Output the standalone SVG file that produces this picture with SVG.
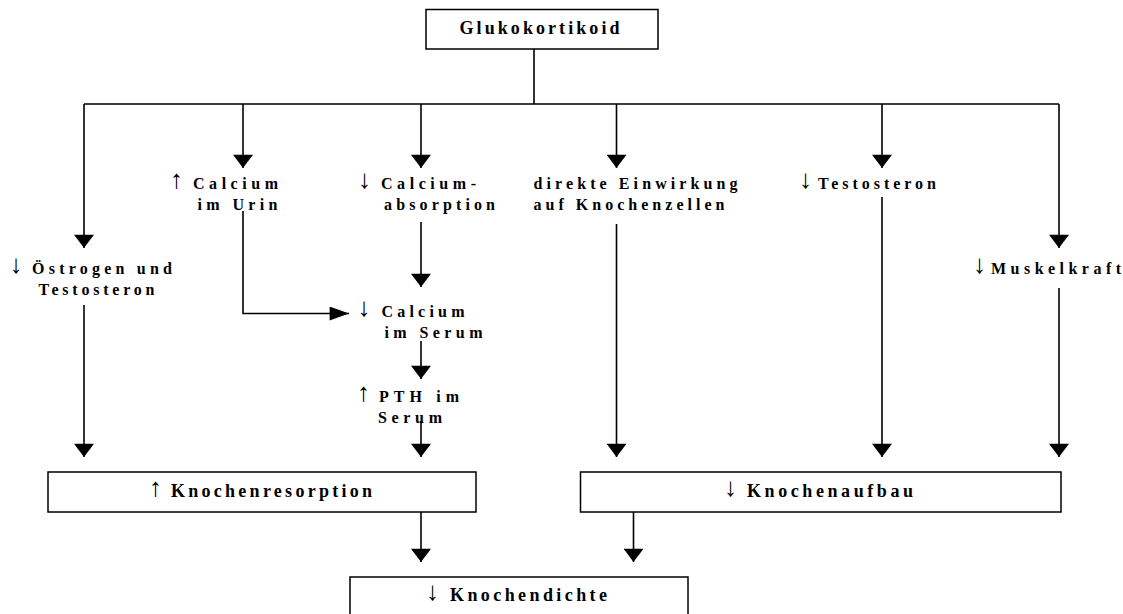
<svg xmlns="http://www.w3.org/2000/svg" width="1123" height="614" viewBox="0 0 1123 614">
<style>
.box{fill:#fff;stroke:#000;stroke-width:1.5}
.t{font-family:"Liberation Serif","Times New Roman",serif;font-weight:bold;font-size:16px;fill:#000}
.tb{font-family:"Liberation Serif","Times New Roman",serif;font-weight:bold;font-size:18px;fill:#000}
.ar{font-family:"Liberation Serif","DejaVu Serif",serif;font-weight:normal;font-size:26px;fill:#000}
.ln{fill:none;stroke:#000;stroke-width:1.6}
.dn{marker-end:url(#head)}
.rt{marker-end:url(#headR)}
</style>
<defs>
<marker id="head" markerUnits="userSpaceOnUse" markerWidth="14" markerHeight="20" refX="12" refY="9" orient="auto" viewBox="0 0 12 18">
<path d="M0,0 L12,9 L0,18 z" fill="#000"/>
</marker>
<marker id="headR" markerUnits="userSpaceOnUse" markerWidth="20" markerHeight="14" refX="18" refY="6.5" orient="auto" viewBox="0 0 18 13">
<path d="M0,0 L18,6.5 L0,13 z" fill="#000"/>
</marker>
</defs>
<rect width="1123" height="614" fill="#fff"/>

<g id="connectors">
<path class="ln" d="M534,49 V104 M84,104 H1059"/>
<path class="ln dn" d="M84,104 V248"/>
<path class="ln dn" d="M243,104 V168"/>
<path class="ln dn" d="M421,104 V168"/>
<path class="ln dn" d="M616.5,104 V168"/>
<path class="ln dn" d="M882,104 V168"/>
<path class="ln dn" d="M1059,104 V248"/>
<path class="ln rt" d="M243,211 V313.5 H349"/>
<path class="ln dn" d="M421,222 V287"/>
<path class="ln dn" d="M421,341 V379"/>
<path class="ln dn" d="M421,421 V457"/>
<path class="ln dn" d="M84,305 V457"/>
<path class="ln dn" d="M616.5,224 V457"/>
<path class="ln dn" d="M882,197 V457"/>
<path class="ln dn" d="M1059,288 V457"/>
<path class="ln dn" d="M421,512 V562"/>
<path class="ln dn" d="M633.5,512 V562"/>
</g>

<g id="glukokortikoid">
<rect class="box" x="426" y="9.5" width="232" height="39.5"/>
<text class="tb" x="459.5" y="34" textLength="160" lengthAdjust="spacing">Glukokortikoid</text>
</g>

<g id="calcium-urin">
<text class="ar" x="170" y="188">↑</text>
<text class="t" x="193" y="189" textLength="85" lengthAdjust="spacing">Calcium</text>
<text class="t" x="197.5" y="210" textLength="80" lengthAdjust="spacing">im Urin</text>
</g>

<g id="calcium-absorption">
<text class="ar" x="358" y="188">↓</text>
<text class="t" x="381" y="189" textLength="95" lengthAdjust="spacing">Calcium-</text>
<text class="t" x="384" y="210" textLength="111" lengthAdjust="spacing">absorption</text>
</g>

<g id="direkte-einwirkung">
<text class="t" x="533.5" y="189" textLength="204" lengthAdjust="spacing">direkte Einwirkung</text>
<text class="t" x="533.5" y="210" textLength="191" lengthAdjust="spacing">auf Knochenzellen</text>
</g>

<g id="testosteron">
<text class="ar" x="799" y="188">↓</text>
<text class="t" x="818" y="189" textLength="118" lengthAdjust="spacing">Testosteron</text>
</g>

<g id="oestrogen">
<text class="ar" x="9.5" y="273">↓</text>
<text class="t" x="32" y="274" textLength="140" lengthAdjust="spacing">Östrogen und</text>
<text class="t" x="38.5" y="295" textLength="116" lengthAdjust="spacing">Testosteron</text>
</g>

<g id="muskelkraft">
<text class="ar" x="973" y="273">↓</text>
<text class="t" x="991" y="274" textLength="130" lengthAdjust="spacing">Muskelkraft</text>
</g>

<g id="calcium-serum">
<text class="ar" x="357.5" y="316">↓</text>
<text class="t" x="381.5" y="317" textLength="83" lengthAdjust="spacing">Calcium</text>
<text class="t" x="384.5" y="338" textLength="98" lengthAdjust="spacing">im Serum</text>
</g>

<g id="pth-serum">
<text class="ar" x="357" y="401">↑</text>
<text class="t" x="379" y="402" textLength="80" lengthAdjust="spacing">PTH im</text>
<text class="t" x="378" y="423" textLength="64" lengthAdjust="spacing">Serum</text>
</g>

<g id="knochenresorption">
<rect class="box" x="48" y="472" width="428" height="40"/>
<text class="ar" x="149" y="496">↑</text>
<text class="tb" x="171" y="497" textLength="201" lengthAdjust="spacing">Knochenresorption</text>
</g>

<g id="knochenaufbau">
<rect class="box" x="580.5" y="472" width="480.5" height="40"/>
<text class="ar" x="724" y="496">↓</text>
<text class="tb" x="747" y="497" textLength="166" lengthAdjust="spacing">Knochenaufbau</text>
</g>

<g id="knochendichte">
<rect class="box" x="350" y="577" width="338" height="50"/>
<text class="ar" x="426" y="600">↓</text>
<text class="tb" x="450" y="601" textLength="157" lengthAdjust="spacing">Knochendichte</text>
</g>
</svg>
